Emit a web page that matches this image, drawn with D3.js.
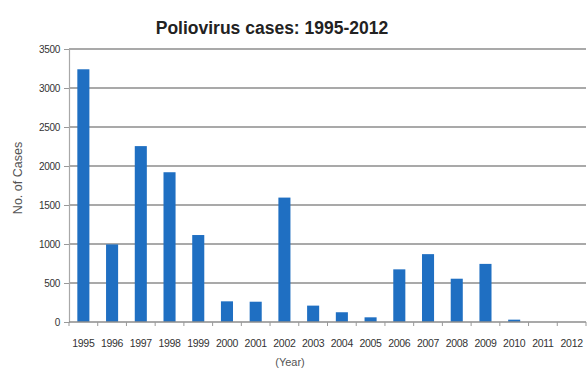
<!DOCTYPE html>
<html>
<head>
<meta charset="utf-8">
<script src="https://cdn.jsdelivr.net/npm/d3@7/dist/d3.min.js"></script>
<style>
  html, body { margin: 0; padding: 0; background: #fff; }
  svg { display: block; }
</style>
</head>
<body>
<svg id="chart" width="588" height="369"></svg>
<script>
// Reported poliovirus cases per year
const years = ["1995","1996","1997","1998","1999","2000","2001","2002","2003",
               "2004","2005","2006","2007","2008","2009","2010","2011","2012"];
const cases = [3240, 995, 2255, 1920, 1115, 265, 260, 1595, 210,
               125, 60, 675, 870, 555, 745, 30, 0, 0];
const yTicks = [0, 500, 1000, 1500, 2000, 2500, 3000, 3500];

const svg = d3.select("#chart");
const margin = { left: 69, right: 2, top: 49, bottom: 47 };
const W = 588, H = 369;
const innerW = W - margin.left - margin.right;
const innerH = H - margin.top - margin.bottom;

const x = d3.scaleBand().domain(years).range([0, innerW])
  .paddingInner(0.58).paddingOuter(0.29);
const y = d3.scaleLinear().domain([0, 3500]).range([innerH, 0]);

const g = svg.append("g").attr("transform", `translate(${margin.left},${margin.top})`);

// Title
svg.append("text")
  .attr("x", 272).attr("y", 34)
  .attr("text-anchor", "middle")
  .attr("font-family", "Liberation Sans, Arial, sans-serif")
  .attr("font-weight", "bold")
  .attr("font-size", 17.5)
  .attr("fill", "#222")
  .text("Poliovirus cases: 1995-2012");

// Horizontal gridlines
g.append("g")
  .selectAll("line")
  .data(yTicks.filter(d => d > 0))
  .join("line")
  .attr("x1", 0).attr("x2", innerW)
  .attr("y1", d => y(d)).attr("y2", d => y(d))
  .attr("stroke", "#8c8c8c").attr("stroke-width", 1.5);

// Y axis
const yAxis = g.append("g")
  .call(d3.axisLeft(y).tickValues(yTicks).tickFormat(d3.format("d"))
    .tickSize(5).tickPadding(4));
yAxis.select(".domain").attr("stroke", "#a8a8a8").attr("stroke-width", 1.2);
yAxis.selectAll(".tick line").attr("stroke", "#999");
yAxis.selectAll(".tick text")
  .attr("font-family", "Liberation Sans, Arial, sans-serif")
  .attr("font-size", 10)
  .attr("letter-spacing", -0.3)
  .attr("fill", "#333");

// Bars
g.append("g")
  .selectAll("rect")
  .data(years.map((yr, i) => ({ yr, v: cases[i] })))
  .join("rect")
  .attr("x", d => x(d.yr))
  .attr("width", x.bandwidth())
  .attr("y", d => y(d.v))
  .attr("height", d => innerH - y(d.v))
  .attr("fill", "#1f6fc2");

// X axis baseline and category boundary ticks
const xAxis = g.append("g").attr("transform", `translate(0,${innerH})`);
xAxis.append("line")
  .attr("x1", 0).attr("x2", innerW)
  .attr("stroke", "#8c8c8c").attr("stroke-width", 1.5);
const step = x.step();
xAxis.selectAll("line.bound")
  .data(d3.range(years.length + 1))
  .join("line")
  .attr("class", "bound")
  .attr("x1", i => i * step).attr("x2", i => i * step)
  .attr("y1", 0).attr("y2", 4)
  .attr("stroke", "#999");
xAxis.selectAll("text")
  .data(years)
  .join("text")
  .attr("x", d => x(d) + x.bandwidth() / 2)
  .attr("y", 25)
  .attr("text-anchor", "middle")
  .attr("font-family", "Liberation Sans, Arial, sans-serif")
  .attr("font-size", 10.5)
  .attr("letter-spacing", -0.3)
  .attr("fill", "#333")
  .text(d => d);

// Axis titles
svg.append("text")
  .attr("x", 290).attr("y", 366)
  .attr("text-anchor", "middle")
  .attr("font-family", "Liberation Sans, Arial, sans-serif")
  .attr("font-size", 11)
  .attr("fill", "#555")
  .text("(Year)");

svg.append("text")
  .attr("transform", "translate(22,178) rotate(-90)")
  .attr("text-anchor", "middle")
  .attr("font-family", "Liberation Sans, Arial, sans-serif")
  .attr("font-size", 12.5)
  .attr("fill", "#555")
  .text("No. of Cases");
</script>
</body>
</html>
